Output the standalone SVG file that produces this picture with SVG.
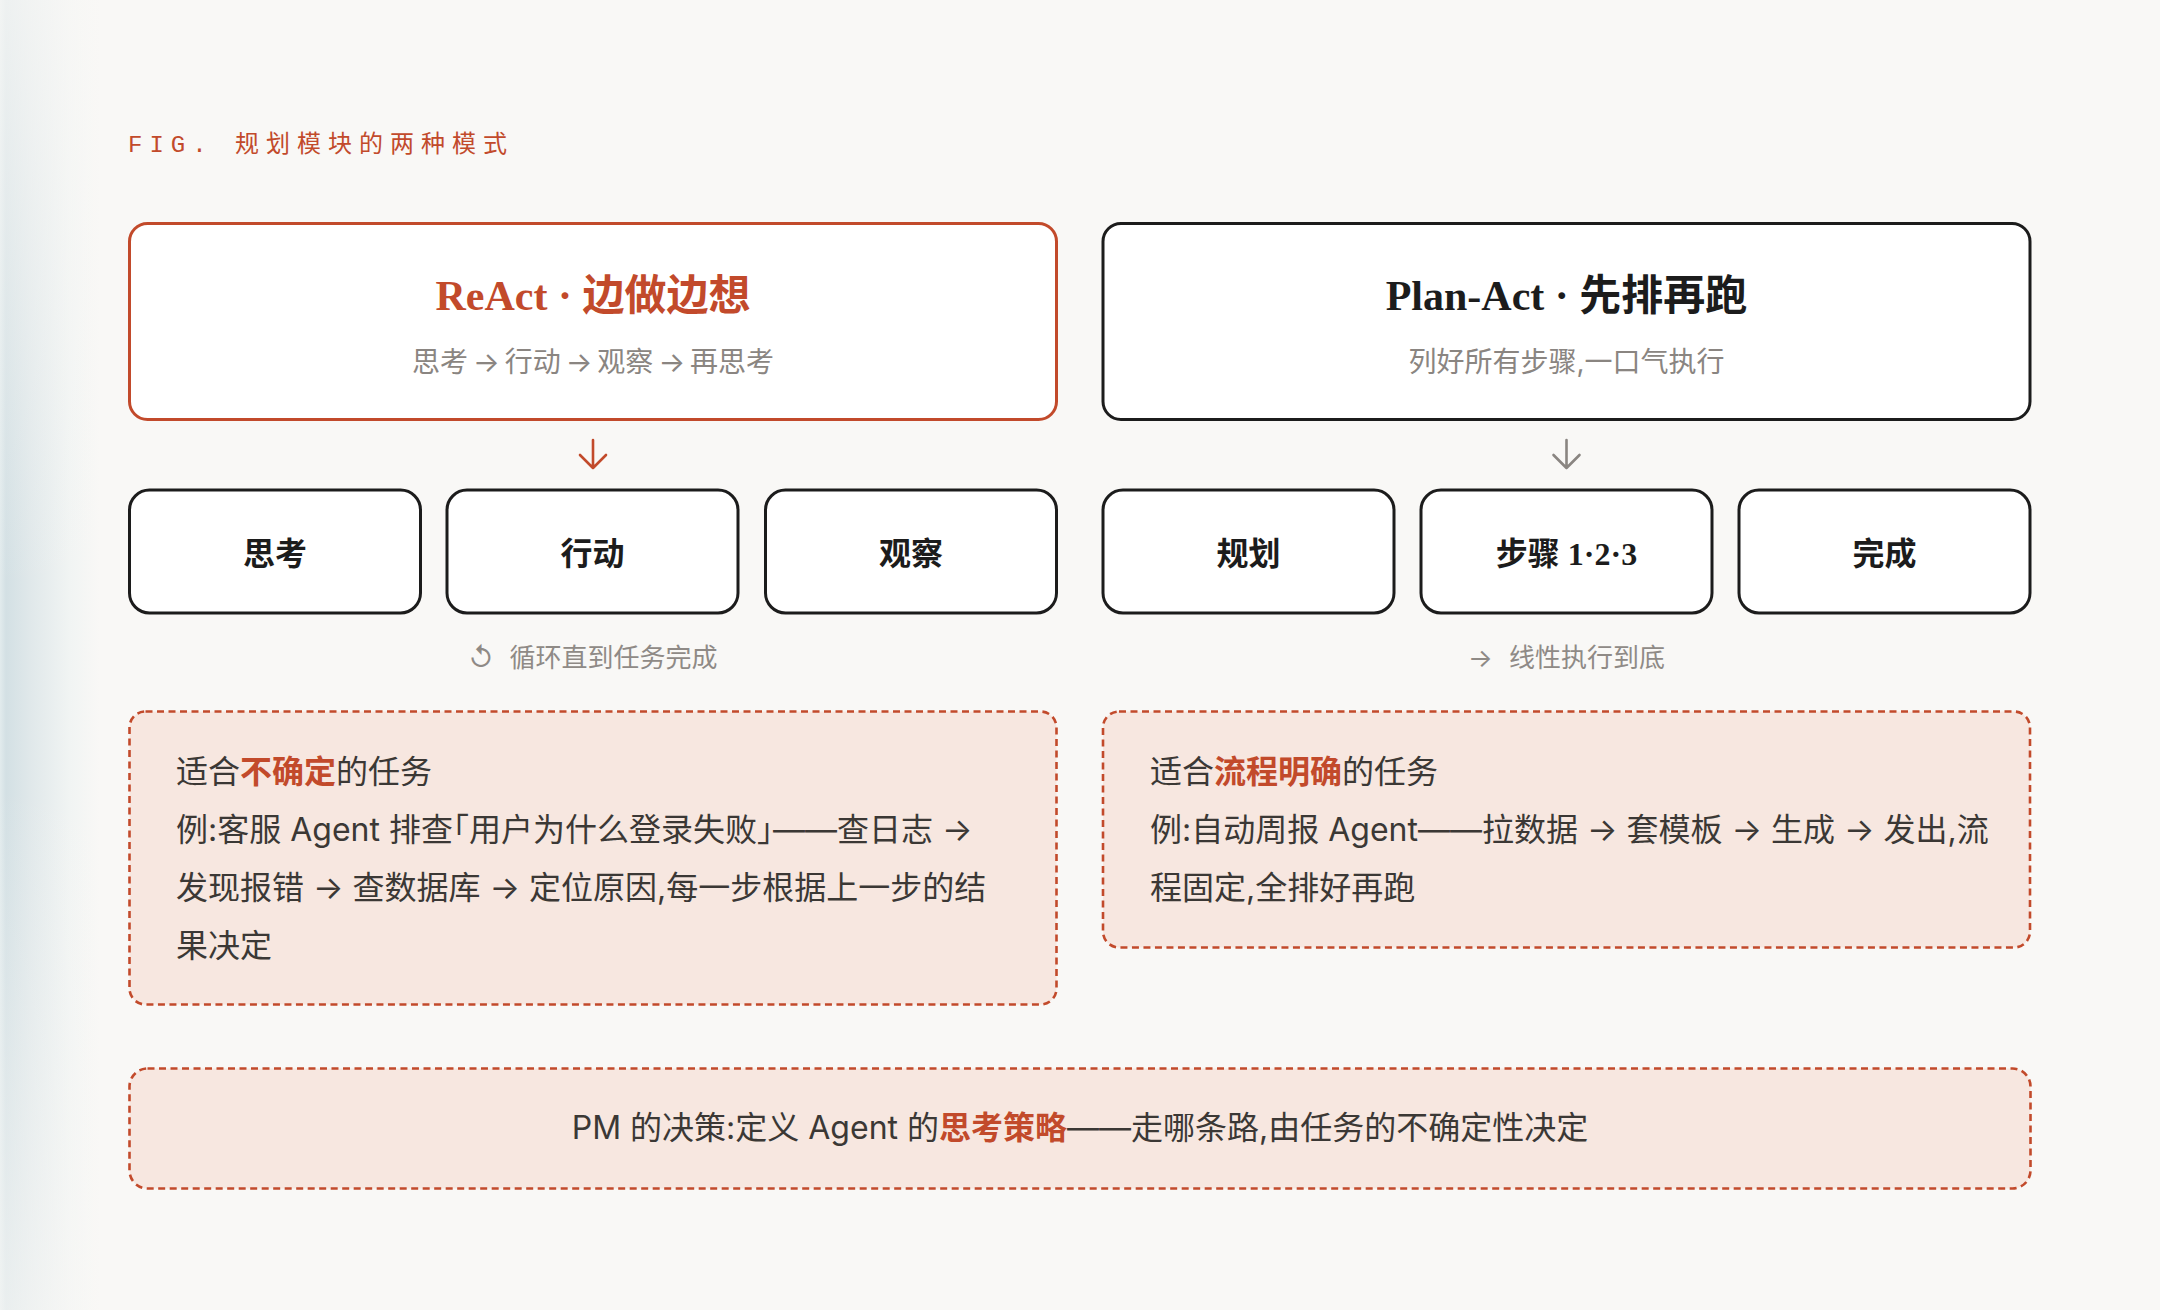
<svg xmlns="http://www.w3.org/2000/svg" width="2160" height="1310" viewBox="0 0 2160 1310">
<defs>
<linearGradient id="edge" x1="0" y1="0" x2="1" y2="0">
<stop offset="0" stop-color="#e2ebed"/>
<stop offset="0.06" stop-color="#d3e0e4"/>
<stop offset="0.3" stop-color="#e0e8ea"/>
<stop offset="0.7" stop-color="#f1f4f3"/>
<stop offset="1" stop-color="#f9f8f6"/>
</linearGradient>
<linearGradient id="edgeV" x1="0" y1="0" x2="0" y2="1">
<stop offset="0" stop-color="#f9f8f6" stop-opacity="0.7"/>
<stop offset="0.45" stop-color="#f9f8f6" stop-opacity="0"/>
<stop offset="0.6" stop-color="#f9f8f6" stop-opacity="0"/>
<stop offset="1" stop-color="#f9f8f6" stop-opacity="0.6"/>
</linearGradient>
<style>
.fig{font-family:"Liberation Mono","Noto Sans CJK SC",monospace;font-size:24px;letter-spacing:7px;fill:#c24a2b}
.big{fill:#ffffff;stroke-width:3}
.org{stroke:#c24a2b}
.blk{stroke:#1c1c1c}
.title{font-family:"Liberation Serif","Noto Sans CJK SC",serif;font-size:42px;font-weight:700;text-anchor:middle}
.sub{font-family:"Inter","Noto Sans CJK SC",sans-serif;font-size:28px;fill:#8a8581;text-anchor:middle}
.step{fill:#ffffff;stroke:#1c1c1c;stroke-width:3}
.lbl{font-family:"Liberation Serif","Noto Sans CJK SC",serif;font-size:32px;font-weight:700;fill:#1c1c1c;text-anchor:middle}
.note{font-family:"Inter","Noto Sans CJK SC",sans-serif;font-size:26px;fill:#8f8a86;text-anchor:middle}
.dash{fill:#f7e7e0;stroke:#c24a2b;stroke-width:2.6;stroke-dasharray:7 4.5}
.body{font-family:"Inter","Noto Sans CJK SC",sans-serif;font-size:32px;fill:#3b3835}
.half{font-feature-settings:"halt"}
.hl{font-weight:700;fill:#c24a2b}
.arr{fill:none;stroke-width:2.6;stroke-linecap:round;stroke-linejoin:round}
</style>
</defs>
<rect x="0" y="0" width="2160" height="1310" fill="#f9f8f6"/>
<rect x="0" y="0" width="100" height="1310" fill="url(#edge)"/>
<rect x="0" y="0" width="100" height="1310" fill="url(#edgeV)"/>

<text class="fig" x="128" y="152">FIG. 规划模块的两种模式</text>

<g id="react">
<rect class="big org" x="129.5" y="223.5" width="927" height="196" rx="18"/>
<text class="title" x="593" y="310" fill="#c24a2b">ReAct · 边做边想</text>
<text class="sub" x="593" y="372">思考<tspan dx="5">→</tspan><tspan dx="5">行动</tspan><tspan dx="5">→</tspan><tspan dx="5">观察</tspan><tspan dx="5">→</tspan><tspan dx="5">再思考</tspan></text>
</g>

<g id="planact">
<rect class="big blk" x="1103" y="223.5" width="927" height="196" rx="18"/>
<text class="title" x="1566.5" y="310" fill="#1c1c1c">Plan-Act · 先排再跑</text>
<text class="sub" x="1566.5" y="372">列好所有步骤,一口气执行</text>
</g>

<g id="connectors">
<path class="arr" stroke="#c24a2b" d="M593 440 V468 M580 455 L593 468 L606 455"/>
<path class="arr" stroke="#8a8581" d="M1566.5 440 V468 M1553.5 455 L1566.5 468 L1579.5 455"/>
</g>

<g id="think">
<rect class="step" x="129.5" y="490" width="291" height="123" rx="20"/>
<text class="lbl" x="275" y="565">思考</text>
</g>
<g id="act">
<rect class="step" x="447" y="490" width="291" height="123" rx="20"/>
<text class="lbl" x="592.5" y="565">行动</text>
</g>
<g id="observe">
<rect class="step" x="765.5" y="490" width="291" height="123" rx="20"/>
<text class="lbl" x="911" y="565">观察</text>
</g>
<g id="plan">
<rect class="step" x="1103" y="490" width="291" height="123" rx="20"/>
<text class="lbl" x="1248.5" y="565">规划</text>
</g>
<g id="steps">
<rect class="step" x="1421" y="490" width="291" height="123" rx="20"/>
<text class="lbl" x="1566.5" y="565">步骤 1·2·3</text>
</g>
<g id="done">
<rect class="step" x="1739" y="490" width="291" height="123" rx="20"/>
<text class="lbl" x="1884.5" y="565">完成</text>
</g>

<g id="loop-note">
<text class="note" x="593" y="667">↺<tspan dx="16">循环直到任务完成</tspan></text>
</g>
<g id="linear-note">
<text class="note" x="1566.5" y="667">→<tspan dx="16">线性执行到底</tspan></text>
</g>

<g id="react-use">
<rect class="dash" x="129.5" y="711.5" width="927" height="293" rx="16"/>
<text class="body" x="176" y="783">适合<tspan class="hl">不确定</tspan>的任务</text>
<text class="body half" x="176" y="841">例:客服 Agent 排查「用户为什么登录失败」——查日志 →</text>
<text class="body" x="176" y="899">发现报错 → 查数据库 → 定位原因,每一步根据上一步的结</text>
<text class="body" x="176" y="957">果决定</text>
</g>

<g id="planact-use">
<rect class="dash" x="1103" y="711.5" width="927" height="236" rx="16"/>
<text class="body" x="1150" y="783">适合<tspan class="hl">流程明确</tspan>的任务</text>
<text class="body" x="1150" y="841">例:自动周报 Agent——拉数据 → 套模板 → 生成 → 发出,流</text>
<text class="body" x="1150" y="899">程固定,全排好再跑</text>
</g>

<g id="pm-decision">
<rect class="dash" x="129.5" y="1068.5" width="1901" height="120" rx="18"/>
<text class="body" x="1080" y="1139" text-anchor="middle">PM 的决策:定义 Agent 的<tspan class="hl">思考策略</tspan>——走哪条路,由任务的不确定性决定</text>
</g>
</svg>
